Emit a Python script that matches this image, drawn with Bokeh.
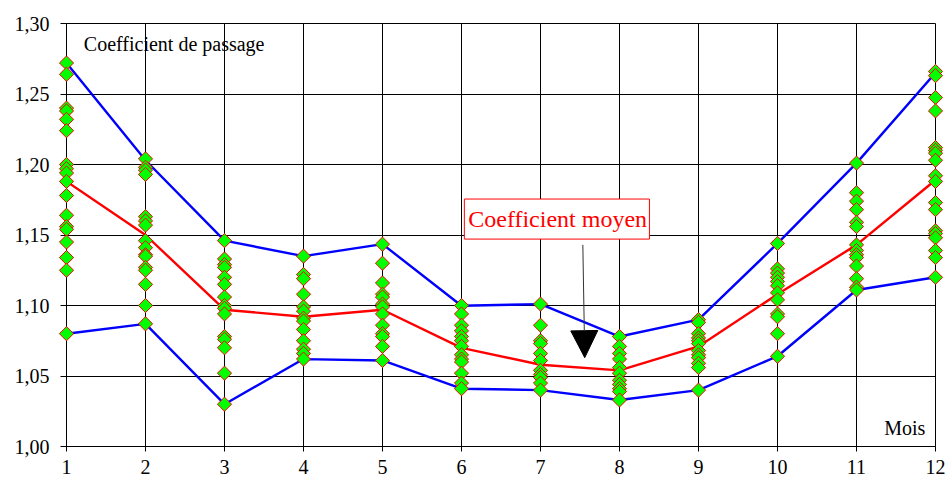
import math
from bokeh.plotting import figure
from bokeh.models import (FixedTicker, CustomJSTickFormatter, Label, BoxAnnotation,
                          Arrow, NormalHead, ColumnDataSource, Range1d)
from bokeh.embed import file_html
from bokeh.resources import INLINE

# ---- data ----
months = [1, 2, 3, 4, 5, 6, 7, 8, 9, 10, 11, 12]
y_ticks = [1.00, 1.05, 1.10, 1.15, 1.20, 1.25, 1.30]

coef_m01 = [1.272, 1.264, 1.240, 1.238, 1.232, 1.224, 1.200, 1.197, 1.194, 1.188, 1.178,
            1.164, 1.156, 1.154, 1.145, 1.134, 1.125, 1.080]
coef_m02 = [1.204, 1.198, 1.196, 1.193, 1.163, 1.160, 1.157, 1.146, 1.141, 1.136, 1.135,
            1.127, 1.125, 1.115, 1.100, 1.087]
coef_m03 = [1.146, 1.133, 1.129, 1.127, 1.120, 1.115, 1.106, 1.100, 1.098, 1.094, 1.078,
            1.076, 1.070, 1.052, 1.030]
coef_m04 = [1.135, 1.122, 1.119, 1.108, 1.099, 1.096, 1.091, 1.089, 1.083, 1.075, 1.069,
            1.066, 1.062]
coef_m05 = [1.1435, 1.130, 1.116, 1.108, 1.106, 1.101, 1.099, 1.094, 1.086, 1.080, 1.078,
            1.071, 1.061]
coef_m06 = [1.100, 1.094, 1.086, 1.082, 1.078, 1.075, 1.071, 1.065, 1.062, 1.060, 1.052,
            1.045, 1.041]
coef_m07 = [1.101, 1.086, 1.075, 1.073, 1.066, 1.061, 1.054, 1.051, 1.049, 1.045, 1.040]
coef_m08 = [1.078, 1.071, 1.066, 1.062, 1.056, 1.052, 1.047, 1.044, 1.041, 1.039, 1.033]
coef_m09 = [1.090, 1.088, 1.080, 1.077, 1.075, 1.073, 1.068, 1.065, 1.063, 1.059, 1.056, 1.040]
coef_m10 = [1.144, 1.126, 1.123, 1.120, 1.117, 1.114, 1.109, 1.104, 1.094, 1.092, 1.080, 1.064]
coef_m11 = [1.201, 1.180, 1.174, 1.168, 1.159, 1.156, 1.143, 1.139, 1.136, 1.134, 1.128,
            1.119, 1.113, 1.111]
coef_m12 = [1.266, 1.263, 1.2475, 1.238, 1.212, 1.210, 1.208, 1.203, 1.192, 1.188, 1.173,
            1.168, 1.153, 1.151, 1.148, 1.139, 1.134, 1.120]

coef_max = [1.272, 1.203, 1.146, 1.135, 1.1435, 1.0998, 1.101, 1.078, 1.090, 1.144, 1.201, 1.265]
coef_mean = [1.188, 1.150, 1.097, 1.092, 1.097, 1.070, 1.058, 1.054, 1.071, 1.108, 1.143, 1.189]
coef_min = [1.080, 1.087, 1.030, 1.062, 1.061, 1.041, 1.040, 1.033, 1.040, 1.064, 1.111, 1.120]

monthly = [coef_m01, coef_m02, coef_m03, coef_m04, coef_m05, coef_m06,
           coef_m07, coef_m08, coef_m09, coef_m10, coef_m11, coef_m12]

FONT = "Liberation Serif"

p = figure(width=946, height=483, x_range=Range1d(1, 12), y_range=Range1d(1.0, 1.3),
           output_backend="svg", toolbar_location=None,
           min_border_left=66, min_border_right=11, min_border_top=23, min_border_bottom=37)
p.background_fill_color = "white"
p.border_fill_color = "white"
p.outline_line_color = "black"
p.outline_line_width = 1

# axes
p.yaxis.ticker = FixedTicker(ticks=y_ticks)
p.yaxis.formatter = CustomJSTickFormatter(code="return tick.toFixed(2).replace('.', ',')")
p.yaxis.major_label_text_font = FONT
p.yaxis.major_label_text_font_size = "20px"
p.yaxis.major_label_text_color = "black"
p.yaxis.major_tick_out = 6
p.yaxis.major_tick_in = 0
p.yaxis.minor_tick_line_color = None
p.yaxis.major_label_standoff = 11
p.yaxis.axis_line_color = "black"
p.yaxis.major_tick_line_color = "black"

p.xaxis.ticker = FixedTicker(ticks=months)
p.xaxis.major_label_text_font = FONT
p.xaxis.major_label_text_font_size = "20px"
p.xaxis.major_label_text_color = "black"
p.xaxis.major_tick_out = 5
p.xaxis.major_tick_in = 0
p.xaxis.minor_tick_line_color = None
p.xaxis.major_label_standoff = 8
p.xaxis.axis_line_color = "black"
p.xaxis.major_tick_line_color = "black"

# grid
p.xgrid.ticker = FixedTicker(ticks=months)
p.ygrid.ticker = FixedTicker(ticks=y_ticks)
p.xgrid.grid_line_color = "black"
p.ygrid.grid_line_color = "black"
p.xgrid.grid_line_width = 1
p.ygrid.grid_line_width = 1

# lines
p.line(months, coef_max, line_color="#0000FF", line_width=2.4)
p.line(months, coef_min, line_color="#0000FF", line_width=2.4)
p.line(months, coef_mean, line_color="#FF0000", line_width=2.4)

# points
xs, ys = [], []
for m, vals in zip(months, monthly):
    xs.extend([m] * len(vals))
    ys.extend(vals)
src = ColumnDataSource(data=dict(x=xs, y=ys))
p.scatter("x", "y", source=src, marker="square", size=10, angle=math.pi / 4,
          fill_color="#00FF00", line_color="#FF0000", line_width=1, level="overlay")

# texts
p.add_layout(Label(x=1.219, y=1.2858, text="Coefficient de passage", text_align="left",
                   text_baseline="alphabetic", text_font=FONT, text_font_size="20px",
                   text_color="black"))
p.add_layout(Label(x=11.872, y=1.0130, text="Mois", text_align="right",
                   text_baseline="alphabetic", text_font=FONT, text_font_size="20px",
                   text_color="black"))

# red annotation box
p.add_layout(BoxAnnotation(left=6.036, right=8.379, bottom=1.1471, top=1.1755,
                           fill_color="white", fill_alpha=1.0, line_color="#FF0000",
                           line_width=1, line_alpha=1.0))
p.add_layout(Label(x=6.085, y=1.1615, text="Coefficient moyen", text_align="left",
                   text_baseline="alphabetic", text_font=FONT, text_font_size="24px",
                   text_color="#FF0000"))

# arrow
p.add_layout(Arrow(x_start=7.536, y_start=1.143, x_end=7.56, y_end=1.063,
                   line_color="#333333", line_width=1,
                   end=NormalHead(size=27, fill_color="black", line_color="black")))

open("out.html", "w").write(file_html(p, INLINE))
